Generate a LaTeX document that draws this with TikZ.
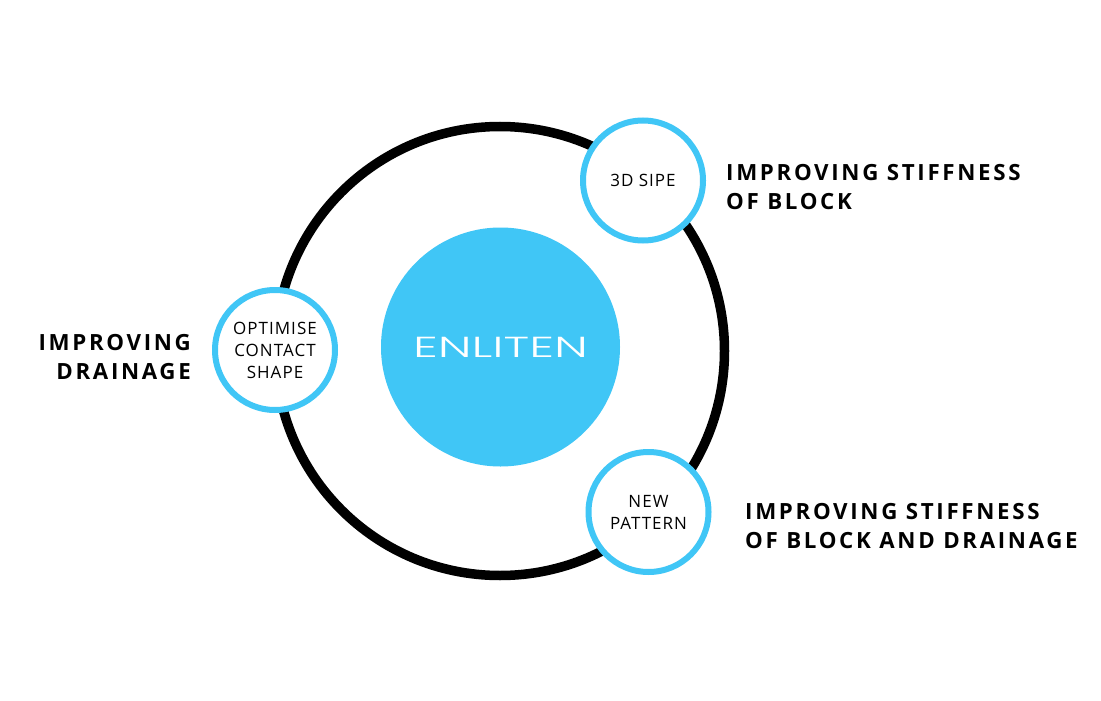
\documentclass[tikz,border=0pt]{standalone}
\usepackage{fontspec}
\setmainfont{Open Sans}
\newfontfamily\logofont{Poppins Light}
\definecolor{ringblue}{HTML}{40C6F6}
\tikzset{
  x=1pt,y=-1pt,
  ring/.style={circle,draw=ringblue,line width=6pt,fill=white,minimum size=120pt,inner sep=0pt,align=center,font=\fontsize{17}{22}\selectfont\addfontfeature{LetterSpace=6}},
  lead/.style={inner sep=0pt,font=\bfseries\fontsize{22.3}{29}\selectfont\addfontfeature{LetterSpace=12}},
}
\begin{document}
\begin{tikzpicture}
\useasboundingbox (0,0) rectangle (1101,701);
\fill[white] (0,0) rectangle (1101,701);
\draw[line width=9.5pt] (500,351) circle (224.5);
\node[circle,fill=ringblue,minimum size=239pt,inner sep=0pt] (core) at (500.5,347) {};
\node[inner sep=0pt,text=white,font=\logofont\fontsize{29}{29}\selectfont] (logo) at (500.5,347) {\scalebox{1.7}[1]{ENLITEN}};
\node[ring] (a) at (643,180.5) {3D SIPE};
\node[ring] (b) at (275,350) {OPTIMISE\\CONTACT\\SHAPE};
\node[ring] (c) at (648.5,512) {NEW\\PATTERN};
\node[lead,anchor=west,align=left] (t1) at (726,187) {IMPROVING STIFFNESS\\OF BLOCK};
\node[lead,anchor=east,align=right] (t2) at (191,357) {IMPROVING\\DRAINAGE};
\node[lead,anchor=west,align=left] (t3) at (745,526.5) {IMPROVING STIFFNESS\\OF BLOCK AND DRAINAGE};
\end{tikzpicture}
\end{document}
